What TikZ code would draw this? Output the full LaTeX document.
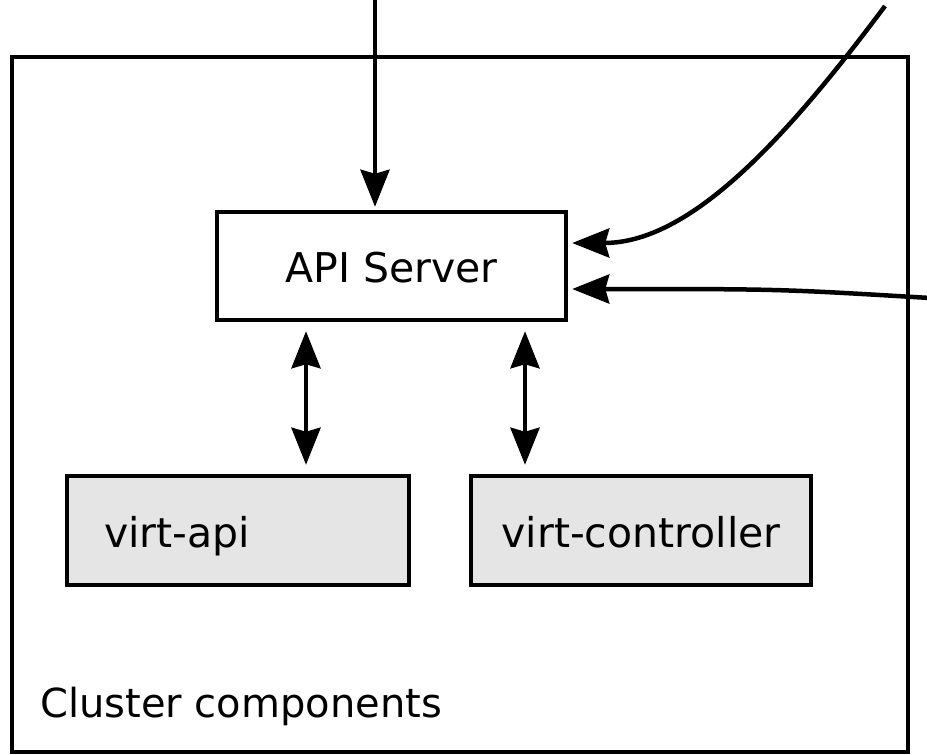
\documentclass[tikz,border=0pt]{standalone}
\usepackage{fontspec}
\setmainfont{DejaVu Sans}
\usetikzlibrary{arrows.meta}
\begin{document}
\begin{tikzpicture}[x=1pt,y=-1pt,
  box/.style={draw=black,line width=4.5pt,rectangle,inner sep=0pt},
  comp/.style={box,fill=black!10,minimum height=109pt,text height=36pt,text depth=3pt},
  conn/.style={line width=4.5pt,-{Stealth[length=37pt,width=29pt,inset=4pt]}},
  biconn/.style={line width=4.5pt,{Stealth[length=37pt,width=29pt,inset=4pt]}-{Stealth[length=37pt,width=29pt,inset=4pt]},shorten <=9pt,shorten >=9pt},
  txt/.style={font=\fontsize{41}{49}\selectfont}]
\useasboundingbox (0,0) rectangle (927,755);
\node[box,minimum width=896pt,minimum height=695pt] (cluster) at (460,404.5) {};
\node[font=\fontsize{40}{48}\selectfont,anchor=base west,inner sep=0pt] (clabel) at (40,717) {Cluster components};
\node[box,fill=white,minimum width=349pt,minimum height=108pt,txt,text height=35pt,text depth=3pt] (api) at (391.5,266) {API Server};
\node[comp,txt,inner xsep=37pt,text width=268pt,align=left] (virtapi) at (238,530.5) {virt-api};
\node[comp,txt,minimum width=340pt] (virtctl) at (641,530.5) {virt-controller};
\coordinate (topin) at (375,0);
\coordinate (curvein) at (885,6);
\coordinate (sidein) at (930,298);
\draw[conn,shorten >=3pt] (topin) -- (topin |- api.north);
\draw[conn,shorten >=4pt] (curvein) .. controls (785,140) and (690,243) .. ([yshift=23pt]api.east);
\draw[conn,shorten >=4pt] (sidein) .. controls (780,289) .. ([yshift=-23pt]api.east);
\draw[biconn] ([xshift=-85.5pt]api.south) -- ([xshift=-85.5pt]api.south |- virtapi.north);
\draw[biconn] ([xshift=133.5pt]api.south) -- ([xshift=133.5pt]api.south |- virtctl.north);
\end{tikzpicture}
\end{document}
